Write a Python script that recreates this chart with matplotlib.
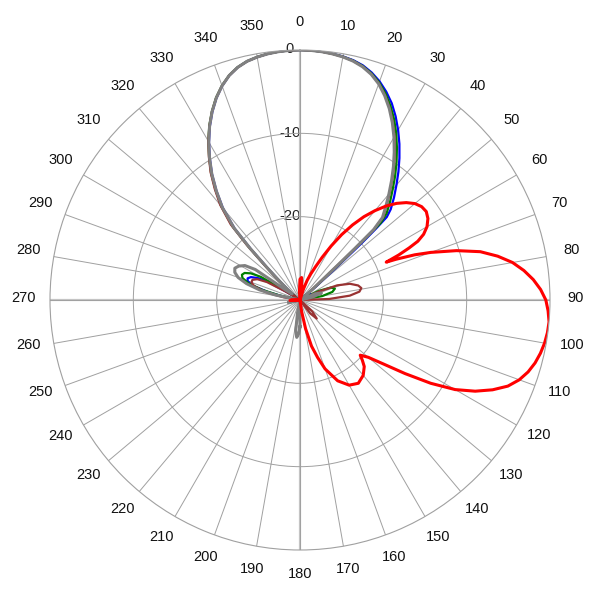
import numpy as np
import matplotlib
matplotlib.use("Agg")
import matplotlib.pyplot as plt

plt.rcParams['font.family'] = ['Liberation Sans', 'DejaVu Sans']

# radiation patterns: angle in degrees (clockwise from north), level in dB

# main beam, shared angle grid for the four similar traces
lobe_ang = [-52.5, -50, -47.5, -45.5, -44, -42.5, -40, -37.5, -35, -32.5, -30, -27.5, -25, -22.5, -20, -17.5,
            -15, -12.5, -10, -7.5, -5, -2.5, 0, 2.5, 5, 7.5, 10, 12.5, 15, 17.5, 20, 22.5, 25, 27.5, 30, 32.5,
            35, 37.5, 40, 42.5, 45, 46.3, 46.8, 47.3, 48, 50]

gray_lobe = [-28.8, -28.2, -26.8, -24.5, -21.4, -18.3, -15.5, -13.5, -11.55, -9.8, -8.1, -6.5, -5.05, -3.75,
             -2.65, -1.75, -1.1, -0.66, -0.4, -0.21, -0.09, -0.02, 0, -0.02, -0.09, -0.21, -0.38, -0.63, -1.02,
             -1.6, -2.4, -3.45, -4.65, -6.0, -7.45, -8.95, -10.45, -11.95, -13.4, -14.75, -16.0, -17.8, -21, -24,
             -26.5, -28.4]
blue_lobe = [-29.0, -28.3, -26.9, -24.6, -21.5, -18.4, -15.6, -13.55, -11.6, -9.85, -8.15, -6.55, -5.1, -3.78,
             -2.67, -1.76, -1.1, -0.66, -0.4, -0.21, -0.09, -0.02, 0, -0.02, -0.08, -0.18, -0.32, -0.52, -0.85,
             -1.38, -2.08, -2.95, -3.95, -5.15, -6.45, -7.8, -9.2, -10.6, -12.0, -13.3, -14.6, -15.6, -17.5,
             -19.8, -23.5, -27.5]
green_lobe = [-28.9, -28.1, -26.6, -24.2, -21.1, -18.0, -15.3, -13.35, -11.4, -9.7, -8.0, -6.42, -5.0, -3.7,
              -2.62, -1.73, -1.08, -0.65, -0.39, -0.2, -0.09, -0.02, 0, -0.02, -0.085, -0.2, -0.35, -0.57, -0.93,
              -1.48, -2.22, -3.18, -4.3, -5.55, -6.9, -8.35, -9.8, -11.25, -12.7, -14.0, -15.3, -16.6, -19.2,
              -22.5, -25.5, -28.2]
brown_lobe = [-28.7, -28.0, -26.4, -24.0, -20.8, -17.7, -15.1, -13.2, -11.3, -9.65, -8.0, -6.45, -5.02, -3.73,
              -2.64, -1.75, -1.1, -0.66, -0.4, -0.21, -0.09, -0.02, 0, -0.02, -0.09, -0.21, -0.37, -0.61, -0.99,
              -1.56, -2.35, -3.38, -4.56, -5.88, -7.3, -8.8, -10.3, -11.8, -13.25, -14.6, -15.85, -17.6, -20.8,
              -23.8, -26.4, -28.4]

# side lobes before / after the main beam
gray_pre_ang = [-180, -178, -175, -172, -169, -167, -106, -102, -98, -81, -78.5, -76, -73, -70, -67, -64, -61,
                -58, -55.7, -55]
gray_pre_db = [-26.8, -26.0, -25.5, -26.3, -28.5, -30, -30, -28.6, -30, -30, -27, -25, -23.3, -22.1, -21.5,
               -21.3, -21.6, -22.2, -23.5, -28]
gray_post_ang = [53, 63, 68, 72, 77, 82, 176, 180]
gray_post_db = [-30, -30, -28, -27.3, -28.5, -30, -30, -26.8]

blue_pre_ang = [-180, -81, -78.5, -76, -73, -70, -67.5, -65, -62.5, -60.5, -59, -56]
blue_pre_db = [-30, -30, -28, -26, -24, -23.3, -23.2, -23.5, -24.3, -25.5, -28, -29.5]
blue_post_ang = [53, 58, 62, 66, 180]
blue_post_db = [-30, -30, -28.5, -30, -30]

green_pre_ang = [-180, -177, -173, -170, -80, -77.5, -75, -72, -69, -66.5, -64, -61.5, -59.5, -58, -56]
green_pre_db = [-30, -30, -28.4, -30, -30, -27.5, -25.3, -23.5, -22.6, -22.4, -22.6, -23.3, -24.5, -27, -29.5]
green_post_ang = [53, 60, 64, 68, 72, 76, 80, 85, 180]
green_post_db = [-30, -30, -27.5, -26, -25.6, -26, -27.3, -30, -30]

brown_pre_ang = [-180, -84, -80.5, -77, -73.5, -70, -67, -64, -61.5, -59.5, -56]
brown_pre_db = [-30, -30, -28, -25.8, -24.3, -23.8, -23.8, -24.3, -25.5, -28, -29.5]
brown_post_ang = [53, 63, 66, 68.5, 72, 76, 79, 82, 85, 88, 91, 128, 133, 138, 143, 148, 180]
brown_post_db = [-30, -30, -27.5, -25.2, -23.7, -22.8, -22.5, -22.8, -24, -26.5, -30, -30, -28, -27, -28, -30,
                 -30]

red_ang = [-180, -97, -93, -89, -85, -8, -4, 0, 4, 8, 11, 15, 17.5, 20, 22.5, 25, 27.5, 30, 32.5, 35, 37.5, 40,
           42.5, 45, 47.5, 50, 52.5, 55, 57.5, 60, 62, 63.5, 64.5, 65.5, 66.3, 67, 68.5, 70, 72.5, 75, 77.5, 80,
           82.5, 85, 87.5, 90, 92.5, 95, 97.5, 100, 102.5, 105, 107.5, 110, 112.5, 115, 117.5, 120, 122.5, 125,
           127.5, 130, 132.5, 134, 136, 140, 145, 150, 155, 160, 163, 166, 169, 172, 175, 180]
red_db = [-30, -30, -28.8, -29, -30, -30, -29, -27.5, -27.3, -28.5, -30, -30, -28.6, -27.5, -26.6, -25.6, -24.2,
          -22.5, -20.7, -19.0, -17.4, -16.0, -14.7, -13.6, -12.7, -12.0, -11.6, -11.5, -11.8, -12.4, -13.2, -14.2,
          -15.5, -17, -18.7, -17.5, -15.2, -13.3, -10.3, -7.6, -5.7, -4.1, -2.9, -1.9, -1.1, -0.5, -0.2, 0, -0.05,
          -0.2, -0.45, -0.8, -1.3, -2.0, -3.0, -4.5, -6.3, -8.5, -11.4, -14.6, -17.4, -19.3, -20.2, -19.6, -18.9,
          -18.2, -17.8, -18.2, -19.3, -21.2, -22.8, -24.3, -26.5, -28.6, -30, -30]

series = [
    (blue_pre_ang + lobe_ang + blue_post_ang, blue_pre_db + blue_lobe + blue_post_db, '#0000ff', 1.6),
    (green_pre_ang + lobe_ang + green_post_ang, green_pre_db + green_lobe + green_post_db, '#008000', 1.6),
    (brown_pre_ang + lobe_ang + brown_post_ang, brown_pre_db + brown_lobe + brown_post_db, '#993333', 1.6),
    (gray_pre_ang + lobe_ang + gray_post_ang, gray_pre_db + gray_lobe + gray_post_db, '#808080', 2.2),
    (red_ang, red_db, '#ff0000', 2.2),
]

r_min, r_max = -30, 0
ring_levels = [0, -10, -20]

fig = plt.figure(figsize=(6, 6), dpi=100)
ax = fig.add_axes([50 / 600, 50 / 600, 500 / 600, 500 / 600], projection='polar')
ax.set_theta_zero_location('N')
ax.set_theta_direction(-1)
ax.set_ylim(r_min, r_max)

ax.set_xticks(np.deg2rad(np.arange(0, 360, 10)))
ax.set_xticklabels([])
ax.set_yticks([-20, -10])
ax.set_yticklabels([])
ax.tick_params(length=0)
ax.grid(True, color='#a0a0a0', linewidth=0.7)
ax.spines['polar'].set_color('#a0a0a0')
ax.spines['polar'].set_linewidth(0.8)

# main axes cross
for a in [0, 90, 180, 270]:
    ax.plot([np.deg2rad(a)] * 2, [r_min, r_max], color='#c4c4c4', linewidth=1.6, zorder=1.2)

for ang, db, col, lw in series:
    ax.plot(np.deg2rad(ang), np.clip(db, r_min, r_max), color=col, linewidth=lw, zorder=2,
            solid_joinstyle='round')

# angle labels
for a in range(0, 360, 10):
    t = np.deg2rad(a)
    ax.text(0.5 + 0.552 * np.sin(t), 0.5 + 0.552 * np.cos(t) + 0.005, str(a), transform=ax.transAxes,
            ha='center', va='center', fontsize=10.5, color='#111111', zorder=1)

for lv in ring_levels:
    ax.annotate(str(lv), xy=(0, lv), xytext=(-7.2, 0.5), textcoords='offset points',
                ha='center', va='center', fontsize=10.5, color='#222222', zorder=1)

fig.savefig('out.png', dpi=100, facecolor='white')
